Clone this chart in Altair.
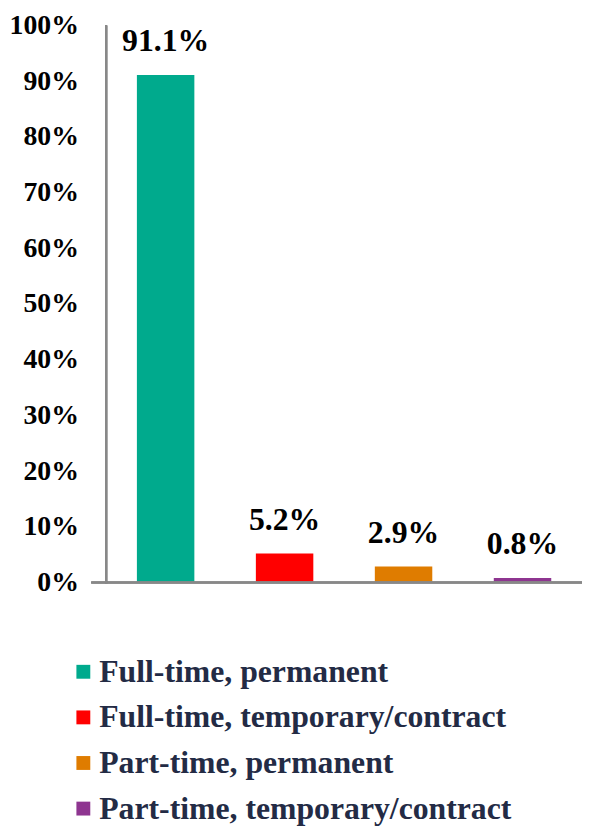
import altair as alt
import pandas as pd

categories = ["Full-time, permanent", "Full-time, temporary/contract",
              "Part-time, permanent", "Part-time, temporary/contract"]
values = [0.911, 0.052, 0.029, 0.008]
labels = ["91.1%", "5.2%", "2.9%", "0.8%"]
colors = ["#00AA8D", "#FF0000", "#DF7C00", "#8E3590"]
ticks = [i / 10 for i in range(11)]

df = pd.DataFrame({"cat": categories, "val": values, "lab": labels})

W, H = 480, 562

x = alt.X("cat:N", sort=categories,
          scale=alt.Scale(paddingInner=0.517, paddingOuter=0.2585),
          axis=None)
y = alt.Y("val:Q", scale=alt.Scale(domain=[0, 1], nice=False),
          axis=alt.Axis(values=ticks, format=".0%",
                        grid=False, ticks=False, domain=False,
                        labelFont="Liberation Serif", labelFontWeight="bold",
                        labelFontSize=28, labelColor="#000000",
                        labelPadding=28, title=None))

bars = alt.Chart(df).mark_bar().encode(
    x=x, y=y,
    color=alt.Color("cat:N", sort=categories,
                    scale=alt.Scale(domain=categories, range=colors),
                    legend=alt.Legend(title=None, orient="none",
                                      legendX=-39, legendY=636,
                                      direction="vertical", columns=1,
                                      symbolType="square", symbolSize=196,
                                      symbolStrokeWidth=0,
                                      labelFont="Liberation Serif",
                                      labelFontWeight="bold",
                                      labelFontSize=32, labelColor="#232B45",
                                      labelOffset=0, rowPadding=14,
                                      labelLimit=600, padding=0))
)

text = alt.Chart(df).mark_text(
    baseline="alphabetic", dy=-24, font="Liberation Serif",
    fontWeight="bold", fontSize=32, color="#000000"
).encode(x=alt.X("cat:N", sort=categories), y="val:Q", text="lab:N")

xline = alt.Chart(df).mark_rule(color="#888888", strokeWidth=2).encode(
    x=alt.value(-15), x2=alt.value(483), y=alt.value(H)
)
yline = alt.Chart(df).mark_rule(color="#888888", strokeWidth=2).encode(
    x=alt.value(0), y=alt.value(0), y2=alt.value(H + 1)
)
ybar = alt.Chart(df).mark_rect(color="#888888").encode(
    x=alt.value(-1), x2=alt.value(1), y=alt.value(0), y2=alt.value(H)
)

chart = alt.layer(bars, text, xline, yline, ybar).properties(
    width=W, height=H,
    autosize=alt.AutoSizeParams(type="none"),
    padding={"left": 99, "top": 14, "right": 0, "bottom": 242},
).configure_view(stroke=None)

chart.save("out.html", embed_options={"renderer": "svg", "actions": False})
